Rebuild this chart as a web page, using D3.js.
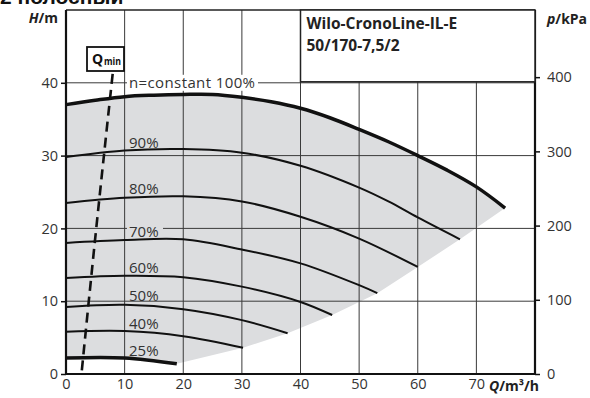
<!DOCTYPE html>
<html>
<head>
<meta charset="utf-8">
<script src="https://cdn.jsdelivr.net/npm/d3@7"></script>
<style>
  html, body { margin: 0; padding: 0; background: #fff; }
  svg { display: block; font-family: "Open Sans", "Noto Sans", sans-serif; }
</style>
</head>
<body>
<svg id="sketchbook" width="590" height="398"></svg>
<script>
// ---- data (Q in m3/h, H in m) ----
const qTicks = [0, 10, 20, 30, 40, 50, 60, 70];
const hTicks = [0, 10, 20, 30, 40];
const pTicks = [0, 100, 200, 300, 400];

const n100 = [[0,37.0],[5,37.6],[10,38.1],[15,38.3],[20,38.4],[25,38.4],[30,38.0],[35,37.4],[40,36.5],[45,35.2],[50,33.6],[55,31.9],[60,30.0],[65,28.0],[70,25.7],[74.9,22.8]];
const n90  = [[0,29.8],[10,30.7],[20,30.9],[30,30.4],[40,28.6],[50,25.6],[55,23.7],[60,21.5],[67.2,18.5]];
const n80  = [[0,23.5],[10,24.2],[20,24.4],[30,23.7],[40,21.6],[50,18.6],[60,14.7]];
const n70  = [[0,18.0],[10,18.4],[20,18.5],[30,17.1],[40,15.2],[50,12.2],[53.1,11.1]];
const n60  = [[0,13.2],[10,13.5],[20,13.3],[30,12.0],[40,9.9],[45.4,8.1]];
const n50  = [[0,9.2],[10,9.5],[20,8.9],[30,7.4],[37.8,5.6]];
const n40  = [[0,5.8],[10,5.9],[20,5.2],[30.2,3.6]];
const n25  = [[0,2.2],[10,2.2],[18.9,1.4]];
// lower right edge of the field, through the curve ends
const edge = [[74.9,22.8],[67.2,18.5],[60,14.7],[53.1,11.1],[45.4,8.1],[37.8,5.6],[30.2,3.6],[18.9,1.4]];
const qmin = [[2.7,0.5],[4.9,18],[8.0,41.5]];

const speedLabels = [
    { text: '90%', y: 142 }, { text: '80%', y: 188 }, { text: '70%', y: 231 },
    { text: '60%', y: 267 }, { text: '50%', y: 295 }, { text: '40%', y: 323 },
    { text: '25%', y: 350 }
];

const svg = d3.select('#sketchbook');
const x = d3.scaleLinear().domain([0, 80]).range([66, 535]);
const y = d3.scaleLinear().domain([0, 50]).range([374, 10]);
const yp = d3.scaleLinear().domain([0, 50 * 9.81]).range([374, 10]);

const lineN = d3.line().x(d => x(d[0])).y(d => y(d[1])).curve(d3.curveCatmullRom);
const pts = list => list.map(d => x(d[0]) + ',' + y(d[1])).join('L');

// top caption, cut by the frame of the picture
svg.append('text').attr('x', 0).attr('y', 4)
    .attr('font-family', 'Liberation Sans, Arial, sans-serif')
    .attr('font-weight', 'bold').attr('font-size', 21).attr('fill', '#111')
    .text('2 полосный');

// shaded field
svg.append('path')
    .attr('d', lineN(n100) + 'L' + pts(edge.slice(1)) + 'L' + pts(n25.slice().reverse()) + 'Z')
    .attr('fill', '#dcdddf');

// grid
svg.append('g').selectAll('line')
    .data(qTicks.slice(1))
    .enter().append('line')
    .attr('x1', d => x(d)).attr('x2', d => x(d))
    .attr('y1', y(0)).attr('y2', y(50))
    .attr('stroke', '#3a3a3a').attr('stroke-width', 1);
svg.append('g').selectAll('line')
    .data(hTicks.slice(1))
    .enter().append('line')
    .attr('x1', x(0)).attr('x2', x(80))
    .attr('y1', d => y(d)).attr('y2', d => y(d))
    .attr('stroke', '#3a3a3a').attr('stroke-width', 1);

// gap in the 20 m line behind the 70% label
svg.append('rect').attr('x', 127).attr('y', y(20) - 2).attr('width', 36).attr('height', 4).attr('fill', '#dcdddf');

// frame
svg.append('line').attr('x1', x(0)).attr('x2', x(80)).attr('y1', y(50)).attr('y2', y(50))
    .attr('stroke', '#222').attr('stroke-width', 1.5);
svg.append('line').attr('x1', x(0)).attr('x2', x(0)).attr('y1', y(50)).attr('y2', y(0) + 1)
    .attr('stroke', '#111').attr('stroke-width', 2.2);
svg.append('line').attr('x1', x(80)).attr('x2', x(80)).attr('y1', y(50)).attr('y2', y(0) + 1)
    .attr('stroke', '#111').attr('stroke-width', 2.2);
svg.append('line').attr('x1', x(0) - 1).attr('x2', x(80) + 1).attr('y1', y(0)).attr('y2', y(0))
    .attr('stroke', '#111').attr('stroke-width', 2.2);

// title box
svg.append('rect').attr('x', x(40)).attr('y', y(50))
    .attr('width', x(80) - x(40)).attr('height', y(40) - y(50) - 1)
    .attr('fill', '#fff').attr('stroke', '#222').attr('stroke-width', 1.5);
svg.append('text').attr('x', x(40) + 6).attr('y', 29)
    .attr('font-weight', 'bold').attr('font-size', 15.5).attr('fill', '#222')
    .text('Wilo-CronoLine-IL-E');
svg.append('text').attr('x', x(40) + 6).attr('y', 51)
    .attr('font-weight', 'bold').attr('font-size', 15.5).attr('fill', '#222')
    .text('50/170-7,5/2');

// speed curves
const curves = [
    { d: n90, w: 2 }, { d: n80, w: 2 }, { d: n70, w: 2 }, { d: n60, w: 2 },
    { d: n50, w: 2 }, { d: n40, w: 2 }, { d: n25, w: 3.5 }, { d: n100, w: 3.5 }
];
svg.append('g').selectAll('path')
    .data(curves)
    .enter().append('path')
    .attr('d', d => lineN(d.d))
    .attr('fill', 'none').attr('stroke', '#111')
    .attr('stroke-width', d => d.w);

// speed labels
svg.append('g').selectAll('text')
    .data(speedLabels)
    .enter().append('text')
    .attr('x', 129).attr('y', d => d.y + 5.5)
    .attr('font-size', 15).attr('fill', '#333')
    .text(d => d.text);

// 100% label on the 40 m grid line
svg.append('rect').attr('x', 127).attr('y', y(40) - 8).attr('width', 131).attr('height', 16).attr('fill', '#fff');
svg.append('text').attr('x', 129).attr('y', y(40) + 5.5)
    .attr('font-size', 15).attr('fill', '#333')
    .attr('textLength', 126)
    .text('n=constant 100%');

// Qmin
svg.append('path')
    .attr('d', d3.line().x(d => x(d[0])).y(d => y(d[1])).curve(d3.curveMonotoneY)(qmin))
    .attr('fill', 'none').attr('stroke', '#111').attr('stroke-width', 2.6)
    .attr('stroke-dasharray', '10,6');
svg.append('rect').attr('x', 87).attr('y', 47).attr('width', 37).attr('height', 24)
    .attr('fill', '#fff').attr('stroke', '#111').attr('stroke-width', 1.8);
svg.append('text').attr('x', 92).attr('y', 64)
    .attr('font-weight', 'bold').attr('font-size', 14).attr('fill', '#111')
    .text('Q');
svg.append('text').attr('x', 104).attr('y', 65)
    .attr('font-weight', 'bold').attr('font-size', 10.5).attr('fill', '#111')
    .attr('textLength', 17).attr('lengthAdjust', 'spacingAndGlyphs')
    .text('min');

// axes
const left = svg.append('g').attr('transform', 'translate(' + x(0) + ',0)')
    .call(d3.axisLeft(y).tickValues(hTicks).tickSize(5).tickPadding(3));
const right = svg.append('g').attr('transform', 'translate(' + x(80) + ',0)')
    .call(d3.axisRight(yp).tickValues(pTicks).tickSize(5).tickPadding(6));
const bottom = svg.append('g').attr('transform', 'translate(0,' + y(0) + ')')
    .call(d3.axisBottom(x).tickValues(qTicks).tickSize(0).tickPadding(5));
[left, right, bottom].forEach(g => {
    g.select('.domain').remove();
    g.selectAll('line').attr('stroke', '#111').attr('stroke-width', 1.5);
    g.selectAll('text').attr('font-family', '"Open Sans", sans-serif')
        .attr('font-size', 14.5).attr('fill', '#333');
});
right.selectAll('text').attr('x', 12);

// axis titles
const th = svg.append('text').attr('x', 58).attr('y', 23).attr('text-anchor', 'end')
    .attr('font-weight', 'bold').attr('font-size', 14).attr('fill', '#222');
th.append('tspan').attr('font-style', 'italic').text('H');
th.append('tspan').text('/m');
const tp = svg.append('text').attr('x', 547).attr('y', 24)
    .attr('font-weight', 'bold').attr('font-size', 14).attr('fill', '#222');
tp.append('tspan').attr('font-style', 'italic').text('p');
tp.append('tspan').text('/kPa');
const tq = svg.append('text').attr('x', 489).attr('y', 391)
    .attr('font-weight', 'bold').attr('font-size', 14).attr('fill', '#222');
tq.append('tspan').attr('font-style', 'italic').text('Q');
tq.append('tspan').text('/m³/h');
</script>
</body>
</html>
